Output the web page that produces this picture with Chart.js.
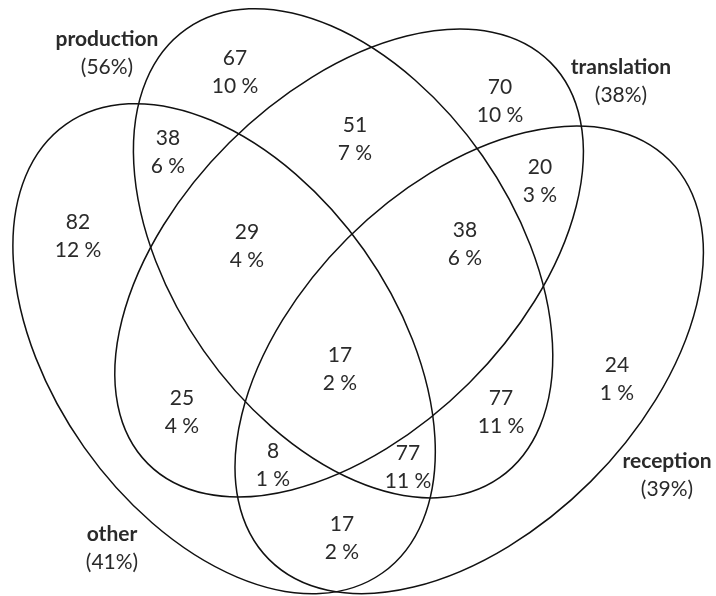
<!DOCTYPE html>
<html><head><meta charset="utf-8">
<script src="https://cdn.jsdelivr.net/npm/chart.js@4.4.1/dist/chart.umd.min.js"></script>
<style>html,body{margin:0;padding:0;background:#fff;}canvas{display:block;}</style>
</head><body>
<canvas id="c" width="716" height="596"></canvas>
<script>
// ---- data ----
const setNames   = ['production', 'translation', 'other', 'reception'];
const setShares  = [56, 38, 41, 39];
const regionCounts = [67, 70, 38, 51, 82, 29, 20, 38, 17, 25, 24, 77, 8, 77, 17];
const regionShares = [10, 10, 6, 7, 12, 4, 3, 6, 2, 4, 1, 11, 1, 11, 2];
// ---- layout (label anchors, ellipse geometry) ----
const regionX = [235, 500, 168, 355, 78, 247, 540, 465, 340, 182, 617, 501, 273, 408, 342];
const regionY = [72, 101, 152, 139, 236, 246, 181, 244, 369, 412, 379, 412, 465, 467, 538];
const setLabelX = [107, 621, 112, 667];
const setLabelY = [53, 81, 548, 475];
const ellipseCX = [343.1, 349.1, 224.1, 469.2];
const ellipseCY = [253.3, 263.0, 348.7, 359.8];
const ellipseRA = [273.6, 284.2, 274.5, 282.7];
const ellipseRB = [170.1, 169.8, 171.2, 172.0];
const ellipseDeg = [55.1, -44.9, 54.8, -44.9];

const FONT = 'Lato, "Open Sans", sans-serif';
const TEXT_COLOR = '#2a2a2a';
const LINE_GAP = 14;

const vennPlugin = {
  id: 'venn',
  afterDatasetsDraw(chart) {
    const ctx = chart.ctx;
    const xs = chart.scales.x, ys = chart.scales.y;
    ctx.save();
    // ellipses, one per set, centred on the set's data point
    chart.getDatasetMeta(0).data.forEach((pt, i) => {
      const rx = xs.getPixelForValue(ellipseCX[i] + ellipseRA[i]) - xs.getPixelForValue(ellipseCX[i]);
      const ry = ys.getPixelForValue(ellipseCY[i]) - ys.getPixelForValue(ellipseCY[i] + ellipseRB[i]);
      ctx.beginPath();
      ctx.ellipse(pt.x, pt.y, Math.abs(rx), Math.abs(ry), ellipseDeg[i] * Math.PI / 180, 0, 2 * Math.PI);
      ctx.strokeStyle = '#111';
      ctx.lineWidth = 1.5;
      ctx.stroke();
    });
    ctx.textAlign = 'center';
    ctx.textBaseline = 'middle';
    ctx.fillStyle = TEXT_COLOR;
    // region labels
    chart.getDatasetMeta(1).data.forEach((pt, i) => {
      ctx.font = '21px ' + FONT;
      ctx.fillText(String(regionCounts[i]), pt.x, pt.y - LINE_GAP);
      ctx.fillText(regionShares[i] + ' %', pt.x, pt.y + LINE_GAP);
    });
    // set labels
    chart.getDatasetMeta(2).data.forEach((pt, i) => {
      ctx.font = 'bold 21px ' + FONT;
      ctx.fillText(setNames[i], pt.x, pt.y - LINE_GAP);
      ctx.font = '21px ' + FONT;
      ctx.fillText('(' + setShares[i] + '%)', pt.x, pt.y + LINE_GAP);
    });
    ctx.restore();
  }
};

new Chart(document.getElementById('c'), {
  type: 'scatter',
  data: {
    datasets: [
      { label: 'sets', data: ellipseCX.map((x, i) => ({ x, y: ellipseCY[i] })), pointRadius: 0 },
      { label: 'regions', data: regionX.map((x, i) => ({ x, y: regionY[i] })), pointRadius: 0 },
      { label: 'set labels', data: setLabelX.map((x, i) => ({ x, y: setLabelY[i] })), pointRadius: 0 }
    ]
  },
  options: {
    responsive: false,
    animation: false,
    layout: { padding: 0 },
    plugins: { legend: { display: false }, tooltip: { enabled: false } },
    scales: {
      x: { type: 'linear', min: 0, max: 716, display: false },
      y: { type: 'linear', min: 0, max: 596, reverse: true, display: false }
    }
  },
  plugins: [vennPlugin]
});
</script></body></html>
